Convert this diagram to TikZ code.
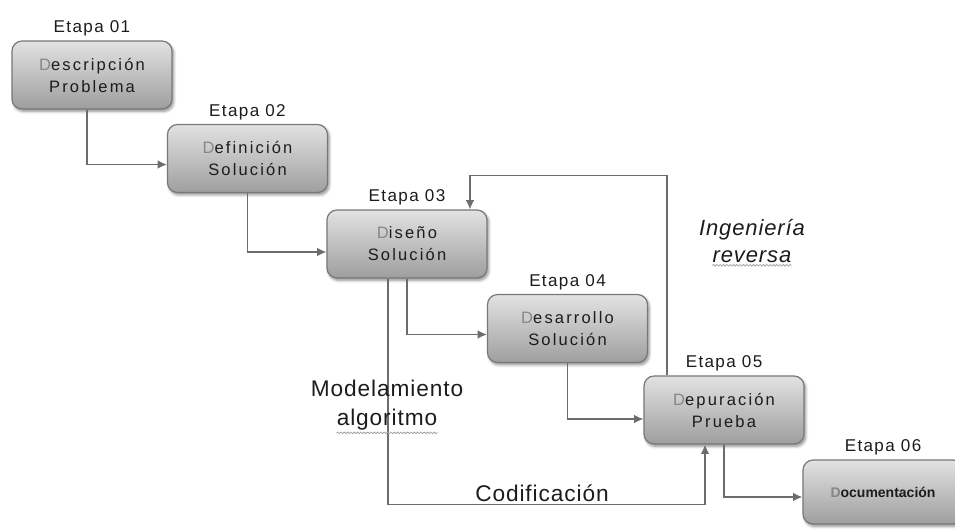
\documentclass[tikz,border=0pt]{standalone}
\usepackage{fontspec}
\setmainfont{Liberation Sans}
\newfontfamily\etapafont{Liberation Sans}[LetterSpace=8]
\newfontfamily\boxfont{Liberation Sans}[LetterSpace=13]
\newfontfamily\notefont{Liberation Sans}[LetterSpace=4]
\usetikzlibrary{positioning,calc,shadows.blur,arrows.meta,decorations.pathmorphing}

\definecolor{boxtop}{RGB}{226,226,226}
\definecolor{boxbot}{RGB}{158,158,158}
\definecolor{boxline}{RGB}{120,120,120}
\definecolor{flowline}{RGB}{108,108,108}
\definecolor{ink}{RGB}{28,28,28}
\definecolor{first}{RGB}{135,135,135}
\definecolor{squig}{RGB}{165,165,165}

\begin{document}
\begin{tikzpicture}[x=0.75pt,y=0.75pt,yscale=-1,xscale=1,
  stage/.style={draw=boxline,line width=0.9pt,rounded corners=7.5pt,top color=boxtop,bottom color=boxbot,
    minimum width=120pt,minimum height=51pt,align=center,text=ink,
    font=\boxfont\fontsize{12.4}{16.5}\selectfont,
    blur shadow={shadow xshift=1.2pt,shadow yshift=-1.8pt,shadow blur steps=6,shadow opacity=45}},
  etapa/.style={inner sep=0pt,text=ink,font=\etapafont\fontsize{12.8}{15}\selectfont},
  flow/.style={draw=flowline,line width=1.1pt,-{Latex[length=7pt,width=6.5pt]}},
  note/.style={inner sep=0pt,text=ink,font=\notefont\fontsize{17}{20}\selectfont},
  squiggle/.style={draw=squig,line width=0.6pt,decorate,decoration={snake,amplitude=0.6pt,segment length=2.5pt}}
]
\clip (0,0) rectangle (955,529);

%Stages
\node[stage] (b1) at (92,75) {{\color{first}D}escripción\\Problema};
\node[stage] (b2) at (247.5,158.5) {{\color{first}D}efinición\\Solución};
\node[stage] (b3) at (407,244) {{\color{first}D}iseño\\Solución};
\node[stage] (b4) at (567.5,328.5) {{\color{first}D}esarrollo\\Solución};
\node[stage] (b5) at (724,410) {{\color{first}D}epuración\\Prueba};
\node[stage,minimum height=48pt,font=\bfseries\fontsize{10.5}{12}\selectfont] (b6) at (883,492) {{\color{first}D}ocumentación};

%Stage labels
\node[etapa,above=3pt of b1] (e1) {Etapa 01};
\node[etapa,above=3pt of b2] (e2) {Etapa 02};
\node[etapa,above=3pt of b3] (e3) {Etapa 03};
\node[etapa,above=3pt of b4] (e4) {Etapa 04};
\node[etapa,above=3pt of b5] (e5) {Etapa 05};
\node[etapa,above=3pt of b6] (e6) {Etapa 06};

%Cascade
\draw[flow] ($(b1.south)+(-5,0)$) |- ($(b2.west)+(0,6)$);
\draw[flow] (b2.south) |- ($(b3.west)+(0,8)$);
\draw[flow] (b3.south) |- ($(b4.west)+(0,6)$);
\draw[flow] (b4.south) |- ($(b5.west)+(0,9)$);
\draw[flow] (b5.south) |- ($(b6.west)+(0,5)$);

%Ingenieria reversa
\draw[flow] ($(b5.north)+(-57,0)$) |- ($(b3.north)+(63,-34)$) -- ($(b3.north)+(63,0)$);
%Codificacion
\draw[flow] ($(b3.south)+(-19,0)$) |- ($(b5.south)+(-19,60)$) -- ($(b5.south)+(-19,0)$);

%Notes
\node[note] (mod) at (387,388) {Modelamiento};
\node[note] (alg) at (387,420) {algoritmo};
\node[note] (cod) at (542,493) {Codificación};
\node[note,font=\notefont\itshape\fontsize{16.5}{20}\selectfont] (ing) at (752,230) {Ingeniería};
\node[note,font=\notefont\itshape\fontsize{16.5}{20}\selectfont] (rev) at (752,257) {reversa};
\draw[squiggle] ($(alg.south west)+(0,2)$) -- ($(alg.south east)+(0,2)$);
\draw[squiggle] ($(rev.south west)+(0,2)$) -- ($(rev.south east)+(0,2)$);

\end{tikzpicture}
\end{document}
